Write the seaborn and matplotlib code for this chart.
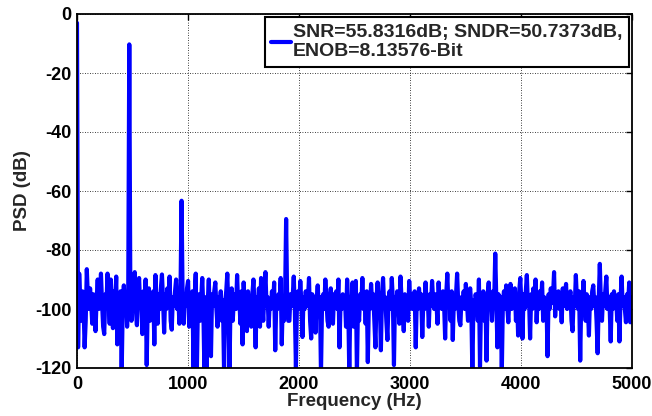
import numpy as np
import pandas as pd
import matplotlib
matplotlib.use("Agg")
import matplotlib.pyplot as plt
import seaborn as sns

# Frequency bin spacing (Hz) and PSD values (dB)
bin_hz = 9.8125
psd_db = [
    -3, -113, -88, -97, -104, -94, -99, -113, -104, -86.5, -96, -100, -93, -98, -105, -95,
    -99, -107.5, -97, -90, -100, -96, -88, -98, -106, -108.5, -95, -99, -88, -97, -105, -90,
    -98, -106.5, -94, -100, -89, -112, -96, -104, -94, -122, -99, -92, -100, -96, -106, -97,
    -10.3, -97, -104, -94, -99, -87.5, -100, -105.5, -95, -89.5, -99, -96, -108.5, -94, -100, -90,
    -119, -97, -93, -104, -96, -99, -94, -112, -88.5, -98, -105, -95, -100, -93, -88.3, -97,
    -108, -95, -100, -93, -98, -89, -104, -107, -96, -99, -94, -90, -100, -96, -105, -95,
    -63.3, -97, -105, -95, -99, -93, -90.5, -106, -97, -100, -94, -122, -96, -88, -122, -99,
    -95, -104, -97, -89.5, -100, -122, -96, -122, -98, -90, -104, -116, -95, -99, -94, -91,
    -100, -106, -96, -99, -94, -104, -97, -121, -98, -94, -88, -100, -122, -96, -93, -104,
    -97, -95, -100, -88.5, -99, -96, -105, -94, -112, -91, -99, -96, -107.5, -94, -100, -97,
    -106, -95, -90, -99, -113, -96, -100, -93, -106, -89.5, -98, -104, -95, -87.5, -99, -96,
    -106, -97, -100, -94, -99, -91, -114, -97, -100, -95, -98, -89.5, -112, -96, -104, -97,
    -69.5, -98, -104, -104, -95, -99, -96, -89, -100, -120, -97, -94, -100, -90.5, -98, -109.5,
    -96, -100, -94, -99, -97, -89.5, -104, -110, -95, -99, -96, -108, -97, -92, -100, -96,
    -122, -98, -95, -100, -90, -97, -104, -106, -96, -93, -99, -105, -95, -98, -94, -100,
    -90, -113, -97, -100, -95, -99, -96, -106, -90, -98, -122, -96, -100, -91, -106, -97,
    -90.5, -122, -98, -104, -95, -99, -89.5, -100, -96, -105, -94, -118, -97, -100, -91.5, -98,
    -95, -104, -113, -96, -91, -100, -97, -114, -95, -89.5, -99, -96, -104, -110.5, -97, -94,
    -100, -89.5, -97, -119, -96, -100, -94, -99, -105, -89, -97, -100, -107.5, -95, -99, -96,
    -104, -90.5, -98, -95, -100, -97, -94, -113, -96, -100, -93, -98, -95, -109.5, -97, -100,
    -91, -98, -96, -106, -95, -99, -90.5, -97, -100, -95, -98, -105, -91, -99, -96, -100,
    -94, -98, -110, -95, -88, -99, -96, -104, -94, -110.5, -97, -100, -95, -88, -98, -104,
    -105.5, -96, -99, -94, -100, -91.5, -98, -104, -95, -93, -99, -122, -97, -100, -95, -98,
    -104, -90, -119.5, -96, -99, -94, -104, -97, -117.5, -95, -91, -99, -96, -104, -94, -98,
    -81.2, -97, -113, -95, -100, -96, -122, -98, -94, -100, -92, -99, -104.5, -96, -91.5, -100,
    -95, -99, -93, -104, -96, -109, -94, -89.5, -98, -110, -95, -100, -94, -88.5, -99, -96,
    -110, -95, -100, -93, -98, -90, -104.5, -96, -100, -94, -99, -91, -104, -96, -99, -97,
    -116, -95, -100, -93, -98, -96, -87.5, -102.5, -95, -99, -94, -100, -96, -104.5, -93, -99,
    -96, -91.5, -100, -95, -98, -94, -104, -107.5, -96, -99, -88.5, -97, -100, -94, -117.5, -96,
    -99, -90.5, -98, -104, -95, -99, -109, -96, -100, -94, -92, -99, -96, -104, -115, -97,
    -84.7, -98, -104, -95, -99, -94, -89, -100, -96, -99, -111, -95, -100, -94, -98, -96,
    -104, -95, -111, -97, -89, -99, -96, -100, -104.5, -95, -98, -91, -104.5, -96, -99, -97,
]
legend_label = "SNR=55.8316dB; SNDR=50.7373dB,\nENOB=8.13576-Bit"
x_ticks = [0, 1000, 2000, 3000, 4000, 5000]
y_ticks = [0, -20, -40, -60, -80, -100, -120]

df = pd.DataFrame({
    "freq": np.arange(len(psd_db)) * bin_hz,
    "psd": psd_db,
})

sns.set_style("white")
plt.rcParams["font.family"] = ["Liberation Sans", "DejaVu Sans"]
plt.rcParams["font.weight"] = "bold"
plt.rcParams["axes.unicode_minus"] = False

fig = plt.figure(figsize=(6.52, 4.16), dpi=100)
ax = fig.add_axes([77 / 652, 48 / 416, 555 / 652, 354 / 416])

sns.lineplot(data=df, x="freq", y="psd", ax=ax, color="#0000ff", linewidth=3.0,
             label=legend_label, estimator=None, sort=False)

ax.set_xlim(0, 5000)
ax.set_ylim(-120, 0)
ax.set_xticks(x_ticks)
ax.set_yticks(y_ticks)
ax.tick_params(direction="in", length=4, width=1, top=True, right=True,
               labelsize=13, colors="black")
ax.tick_params(axis="x", pad=6)
ax.tick_params(axis="y", pad=4)
for lab in ax.get_xticklabels() + ax.get_yticklabels():
    lab.set_fontweight("bold")
ax.grid(True, color="black", linestyle=(0, (1, 2)), linewidth=0.6)
for s in ax.spines.values():
    s.set_color("black")
    s.set_linewidth(1.3)

ax.set_xlabel("Frequency (Hz)", fontsize=13.5, fontweight="bold", labelpad=0)
ax.set_ylabel("PSD (dB)", fontsize=13.5, fontweight="bold", labelpad=3)

leg = ax.legend(loc="upper right", bbox_to_anchor=(1.0, 1.0),
                frameon=True, fancybox=False, framealpha=1, edgecolor="black",
                handlelength=1.0, handletextpad=0.1, borderpad=0.35,
                borderaxespad=0.15, prop={"weight": "bold", "size": 14})
leg.get_frame().set_linewidth(1.5)
for line in leg.get_lines():
    line.set_linewidth(3.0)

fig.savefig("out.png", dpi=100)
